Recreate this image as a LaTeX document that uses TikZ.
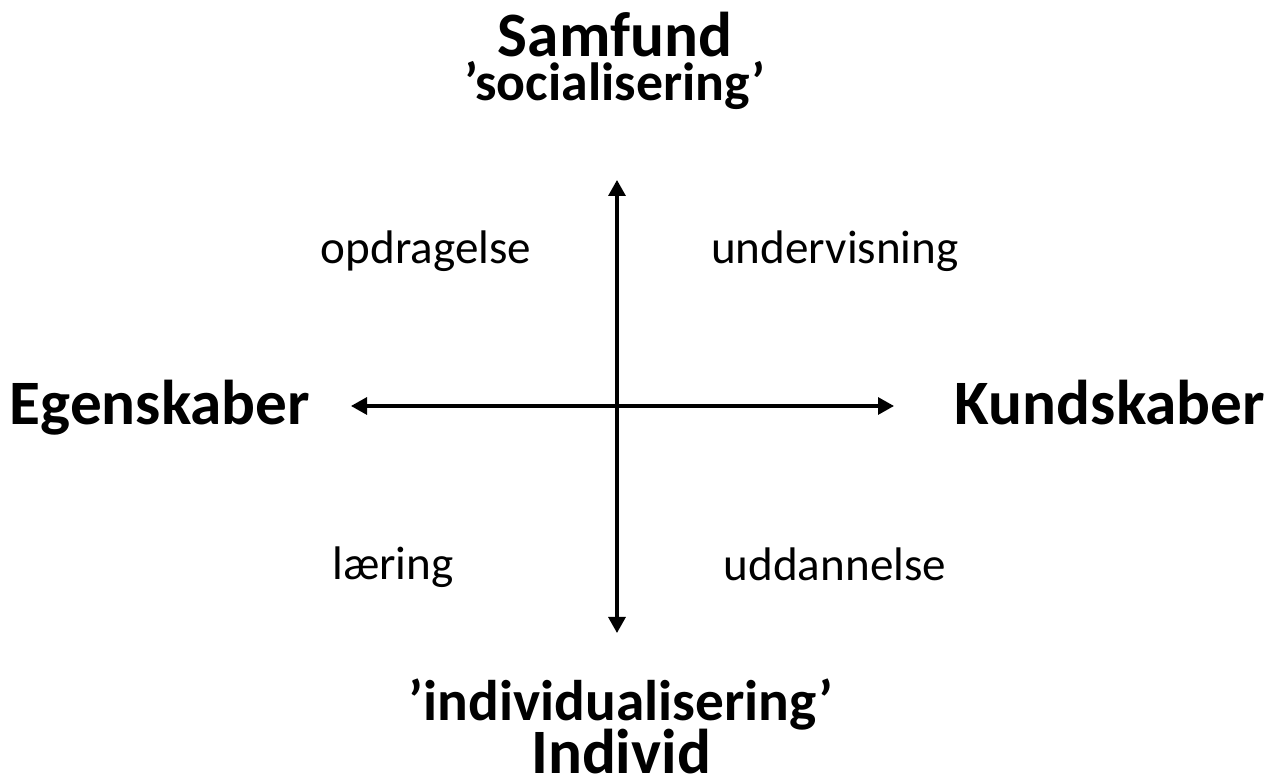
\documentclass[tikz,border=0pt]{standalone}
\usepackage{fontspec}
\setmainfont{Carlito}
\usetikzlibrary{arrows.meta}

\tikzset{
  pole/.style={font=\fontsize{18}{21}\selectfont\bfseries, anchor=base, inner sep=0pt},
  sub/.style={font=\fontsize{16.3}{19}\selectfont\bfseries, anchor=base, inner sep=0pt},
  field/.style={font=\fontsize{13.4}{16}\selectfont, anchor=base, inner sep=0pt},
  axis/.style={line width=0.9pt, {Triangle[length=0.16cm,width=0.17cm]}-{Triangle[length=0.16cm,width=0.17cm]}}
}

\begin{document}
\begin{tikzpicture}
    \useasboundingbox (0,0) rectangle (12.72,7.82);

    % axes
    \coordinate (top) at (6.17,6.02);
    \coordinate (bottom) at (6.17,1.49);
    \coordinate (left) at (3.51,3.76);
    \coordinate (right) at (8.94,3.76);
    \draw[axis] (bottom) -- (top);
    \draw[axis] (left) -- (right);

    % poles
    \node[pole] (samfund) at (6.15,7.25) {Samfund};
    \node[sub, font=\fontsize{15.3}{18}\selectfont\bfseries] (social) at (6.15,6.81) {’socialisering’};
    \node[sub] (indiv) at (6.21,0.61) {’individualisering’};
    \node[pole] (individ) at (6.21,0.08) {Individ};
    \node[pole] (egen) at (1.60,3.57) {Egenskaber};
    \node[pole] (kund) at (11.10,3.57) {Kundskaber};

    % quadrants
    \node[field] (opdr) at (4.26,5.18) {opdragelse};
    \node[field] (underv) at (8.35,5.18) {undervisning};
    \node[field] (laer) at (3.93,2.02) {læring};
    \node[field] (uddan) at (8.35,2.01) {uddannelse};
\end{tikzpicture}
\end{document}
